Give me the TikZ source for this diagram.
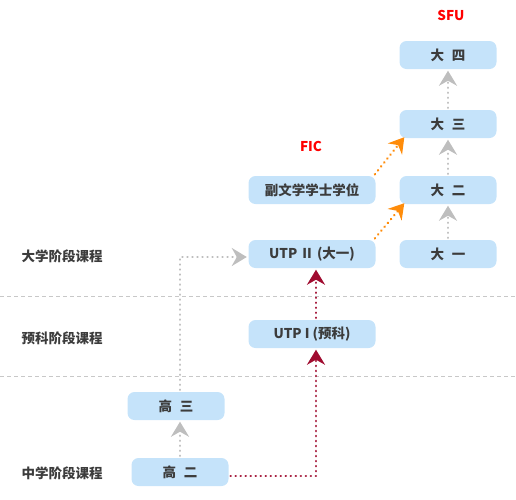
\documentclass[tikz,border=0pt]{standalone}
\usepackage{xcolor}
\usepackage{fontspec}
\setmainfont{Noto Sans CJK SC}
\usepackage{tikz}
\usetikzlibrary{arrows.meta}
\usetikzlibrary{positioning}
\definecolor{boxblue}{RGB}{197,227,250}
\definecolor{txtgray}{RGB}{60,60,60}
\definecolor{dotgray}{RGB}{190,190,190}
\definecolor{linegray}{RGB}{200,200,200}
\definecolor{wine}{RGB}{160,12,48}
\definecolor{amber}{RGB}{255,140,10}
\newcommand{\gap}{\hspace{8pt}}

\begin{document}
\begin{tikzpicture}[
	x=1pt, y=-1pt,
  box/.style={rounded corners=7pt, fill=boxblue, text=txtgray, minimum height=28pt, inner sep=0pt},
  small/.style={box, minimum width=97pt},
  wide/.style={box, minimum width=127pt},
  stage/.style={text=txtgray},
  school/.style={text=red},
  link/.style={line width=2.7pt, line cap=round, dash pattern=on 0.01pt off 5pt, shorten >=1.5pt, shorten <=2pt,
    -{Stealth[length=15pt,width=18pt,inset=5pt,line cap=butt]}},
	font=\bfseries\fontsize{13.5}{16}\selectfont]
  \useasboundingbox (0,0) rectangle (516,499);
  % stage separators
  \coordinate (s1l) at (0,296);   \coordinate (s1r) at (516,296);
  \coordinate (s2l) at (0,376);   \coordinate (s2r) at (516,376);
  \draw[linegray, dashed, dash pattern=on 4pt off 3pt] (s1l) -- (s1r);
  \draw[linegray, dashed, dash pattern=on 4pt off 3pt] (s2l) -- (s2r);
  % stage labels
  \node[stage] (uni) at (62,256) {大学阶段课程};
  \node[stage] (pre) at (62,338) {预科阶段课程};
  \node[stage] (mid) at (62,473) {中学阶段课程};
  \node[school] (fic) at (311,146) {FIC};
  \node[school] (sfu) at (451,15) {SFU};
  % boxes
  \node[small] (da4) at (448,55) {大\gap 四};
  \node[small] (da3) at (448,124) {大\gap 三};
  \node[small] (da2) at (448,190) {大\gap 二};
  \node[small] (da1) at (448,254) {大\gap 一};
  \node[wide] (deg) at (312,190) {副文学学士学位};
  \node[wide] (utp2) at (312,254) {UTP Ⅱ (大一)};
  \node[wide] (utp1) at (312,334) {UTP I (预科)};
  \node[small] (g3) at (176,406) {高\gap 三};
  \node[small] (g2) at (180,472) {高\gap 二};
  % connectors
  \draw[link, dotgray] (da1) -- (da2);
  \draw[link, dotgray] (da2) -- (da3);
  \draw[link, dotgray] (da3) -- (da4);
  \draw[link, dotgray] (g2.north -| 180,0) -- (g3.south -| 180,0);
  \draw[link, dotgray] (g3.north -| 180,0) |- (utp2.west |- 0,257);
  \draw[link, wine] (g2.east |- 0,476) -| (utp1.south -| 316,0);
  \draw[link, wine] (utp1.north -| 316,0) -- (utp2.south -| 316,0);
  \draw[link, amber, shorten >=0pt] ([xshift=-2pt]utp2.north east) -- ([shift={(5,-1)}]da2.south west);
  \draw[link, amber, shorten >=0pt] ([xshift=-2pt]deg.north east) -- ([shift={(5,-1)}]da3.south west);
\end{tikzpicture}
\end{document}
